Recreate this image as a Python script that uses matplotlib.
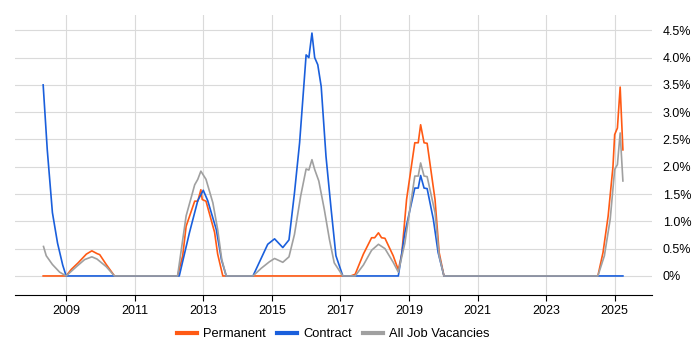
import matplotlib
matplotlib.use("Agg")
import matplotlib.pyplot as plt
from matplotlib.ticker import FuncFormatter

plt.rcParams['font.family'] = ['Liberation Sans', 'DejaVu Sans']

# Permanent
perm_x = [2008.33, 2009.0, 2009.15, 2009.35, 2009.59, 2009.75, 2009.9, 2009.98, 2010.17, 2010.41,
          2012.25, 2012.4, 2012.5, 2012.75, 2012.84, 2012.93, 2012.97, 2013.08, 2013.33, 2013.42, 2013.57,
          2017.3, 2017.43, 2017.67, 2017.91, 2018.0, 2018.11, 2018.2, 2018.3, 2018.54, 2018.69, 2018.79,
          2018.93, 2019.17, 2019.27, 2019.34, 2019.44, 2019.53, 2019.76, 2019.88, 2020.02,
          2024.51, 2024.66, 2024.81, 2024.95, 2025.0, 2025.08, 2025.16, 2025.24]
perm_y = [0, 0, 0.12, 0.24, 0.4, 0.46, 0.41, 0.39, 0.21, 0,
          0, 0.37, 0.91, 1.37, 1.37, 1.58, 1.4, 1.37, 0.8, 0.4, 0,
          0, 0.03, 0.4, 0.7, 0.7, 0.79, 0.7, 0.69, 0.37, 0.11, 0.4,
          1.4, 2.44, 2.44, 2.77, 2.44, 2.43, 1.4, 0.43, 0,
          0, 0.43, 1.1, 2.0, 2.59, 2.71, 3.46, 2.31]

# Contract
cont_x = [2008.33, 2008.45, 2008.6, 2008.75, 2008.9, 2009.0,
          2012.3, 2012.6, 2012.84, 2013.0, 2013.13, 2013.38, 2013.53, 2013.67,
          2014.45, 2014.88, 2015.08, 2015.32, 2015.5, 2015.66, 2015.81, 2016.0, 2016.08, 2016.17,
          2016.25, 2016.34, 2016.44, 2016.58, 2016.73, 2016.87, 2017.07,
          2018.69, 2018.88, 2019.17, 2019.27, 2019.34, 2019.44, 2019.53, 2019.71, 2019.85, 2020.02,
          2025.24]
cont_y = [3.5, 2.31, 1.16, 0.6, 0.2, 0,
          0, 0.8, 1.38, 1.57, 1.38, 0.85, 0.3, 0,
          0, 0.58, 0.68, 0.52, 0.66, 1.52, 2.44, 4.05, 4.0, 4.45,
          4.0, 3.87, 3.47, 2.19, 1.22, 0.37, 0,
          0, 0.79, 1.61, 1.61, 1.84, 1.61, 1.6, 1.04, 0.43, 0,
          0]

# All Job Vacancies
all_x = [2008.34, 2008.42, 2008.6, 2008.81, 2009.0, 2009.3, 2009.54, 2009.75, 2009.9, 2010.17, 2010.41,
         2012.25, 2012.5, 2012.75, 2012.84, 2012.93, 2013.08, 2013.28, 2013.42, 2013.54, 2013.67,
         2014.45, 2014.69, 2014.93, 2015.08, 2015.32, 2015.5, 2015.66, 2015.84, 2016.0, 2016.08, 2016.17,
         2016.25, 2016.37, 2016.53, 2016.68, 2016.82, 2017.07,
         2017.43, 2017.67, 2017.91, 2018.11, 2018.3, 2018.54, 2018.69, 2018.88, 2019.17, 2019.27, 2019.34,
         2019.44, 2019.53, 2019.76, 2019.88, 2020.02,
         2024.51, 2024.7, 2024.87, 2025.0, 2025.08, 2025.16, 2025.24]
all_y = [0.54, 0.37, 0.21, 0.07, 0, 0.17, 0.3, 0.35, 0.31, 0.17, 0,
         0, 1.1, 1.67, 1.77, 1.92, 1.77, 1.34, 0.85, 0.3, 0,
         0, 0.14, 0.26, 0.32, 0.25, 0.35, 0.76, 1.46, 1.96, 1.94, 2.13,
         1.95, 1.74, 1.22, 0.67, 0.24, 0,
         0, 0.2, 0.47, 0.58, 0.5, 0.25, 0.07, 0.6, 1.83, 1.83, 2.07,
         1.83, 1.82, 1.16, 0.37, 0,
         0, 0.37, 1.04, 1.95, 2.04, 2.62, 1.74]

x_ticks = [2009, 2011, 2013, 2015, 2017, 2019, 2021, 2023, 2025]
y_ticks = [0, 0.5, 1.0, 1.5, 2.0, 2.5, 3.0, 3.5, 4.0, 4.5]

fig = plt.figure(figsize=(7, 3.5), dpi=100)
ax = fig.add_axes([0.021, 0.157, 0.91, 0.8])

ax.plot(perm_x, perm_y, color="#FF5A14", lw=1.2, label="Permanent")
ax.plot(cont_x, cont_y, color="#1A5FDC", lw=1.2, label="Contract")
ax.plot(all_x, all_y, color="#A0A0A0", lw=1.2, label="All Job Vacancies")

ax.set_xlim(2007.5, 2026.08)
ax.set_ylim(-0.35, 4.78)
ax.set_xticks(x_ticks)
ax.set_yticks(y_ticks)
ax.yaxis.tick_right()
ax.yaxis.set_major_formatter(FuncFormatter(lambda v, p: "0%" if v == 0 else f"{v:.1f}%"))
ax.grid(True, color="#DADADA", lw=0.8)
ax.set_axisbelow(True)
for s in ["left", "right", "top"]:
    ax.spines[s].set_visible(False)
ax.spines["bottom"].set_color("black")
ax.tick_params(axis="y", length=0, labelsize=9, pad=8)
ax.tick_params(axis="x", length=4, labelsize=9, color="black")

# legend centred under the plot area
leg = fig.legend(loc="lower center", ncol=3, frameon=False, fontsize=9.3,
                 bbox_to_anchor=(0.476, -0.005), handlelength=1.55, handletextpad=0.47,
                 columnspacing=0.85)
for h in leg.get_lines():
    h.set_linewidth(3)

fig.savefig("out.png", dpi=100)
